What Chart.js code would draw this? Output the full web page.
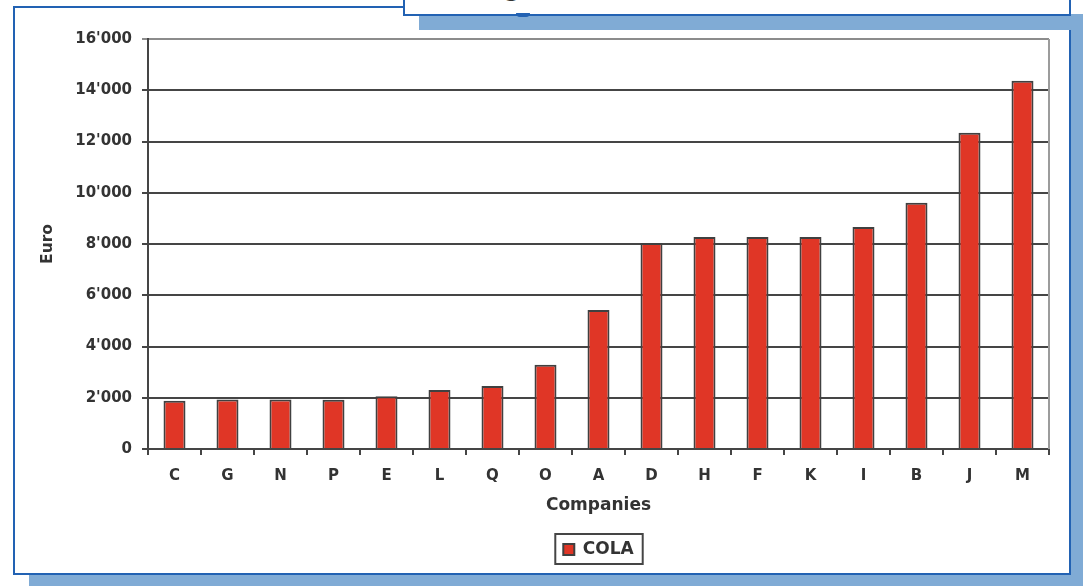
<!DOCTYPE html>
<html>
<head>
<meta charset="utf-8">
<script src="https://cdn.jsdelivr.net/npm/chart.js@4.4.1/dist/chart.umd.min.js"></script>
<style>
  html, body { margin: 0; padding: 0; background: #fff; }
  body { position: relative; width: 1083px; height: 586px; overflow: hidden; font-family: "DejaVu Sans", sans-serif; }
  .shadow { position: absolute; background: #80abd5; }
  .panel { position: absolute; background: #fff; border: 2px solid #2262b3; box-sizing: border-box; }
  #page-shadow { left: 29px; top: 22px; width: 1070px; height: 580px; }
  #page { left: 13px; top: 6px; width: 1058px; height: 569px; }
  #head-shadow { left: 419px; top: 14px; width: 680px; height: 16px; }
  #head { left: 403px; top: -4px; width: 668px; height: 20px; border-top: none; }
  #head-title { position: absolute; left: 419px; top: -21px; font: bold 22px/22px "DejaVu Sans", sans-serif; color: #333; white-space: nowrap; }
  #head-knob { position: absolute; left: 516px; top: 13px; width: 14px; height: 4px; background: #2262b3; border-radius: 0 0 7px 7px; }
  #chart { position: absolute; left: 0; top: 0; }
</style>
</head>
<body>
<div class="shadow" id="page-shadow"></div>
<div class="panel" id="page"></div>
<div class="shadow" id="head-shadow"></div>
<div class="panel" id="head"></div>
<div id="head-title">Ranking</div>
<div id="head-knob"></div>
<canvas id="chart" width="1083" height="586"></canvas>
<script>
// Companies, sorted by amount
const categories = ['C', 'G', 'N', 'P', 'E', 'L', 'Q', 'O', 'A', 'D', 'H', 'F', 'K', 'I', 'B', 'J', 'M'];
// Amount per company (Euro)
const colaValues = [1880, 1930, 1930, 1925, 2060, 2300, 2460, 3290, 5420, 8040, 8270, 8270, 8270, 8660, 9610, 12340, 14370];
const seriesName = 'COLA';
const yTickValues = [0, 2000, 4000, 6000, 8000, 10000, 12000, 14000, 16000];
const xAxisTitle = 'Companies';
const yAxisTitle = 'Euro';

const FONT = '"DejaVu Sans", sans-serif';
const TEXT = '#333333';
const LINE = '#454545';

// 16000 -> 16'000
const fmtThousands = v => String(v).replace(/\B(?=(\d{3})+(?!\d))/g, "'");

// Frame lines around the plot and the legend
const framePlugin = {
  id: 'frames',
  afterDraw(chart) {
    const { ctx, chartArea } = chart;
    ctx.save();
    ctx.strokeStyle = '#9c9c9c';
    ctx.lineWidth = 2;
    ctx.beginPath();
    ctx.moveTo(chartArea.right, chartArea.top);
    ctx.lineTo(chartArea.right, chartArea.bottom);
    ctx.stroke();
    const hb = chart.legend && chart.legend.legendHitBoxes && chart.legend.legendHitBoxes[0];
    if (hb) {
      ctx.strokeStyle = LINE;
      ctx.lineWidth = 2;
      ctx.strokeRect(hb.left - 8, hb.top - 7, hb.width + 17, hb.height + 13);
    }
    ctx.restore();
  }
};

new Chart(document.getElementById('chart'), {
  type: 'bar',
  data: {
    labels: categories,
    datasets: [{
      label: seriesName,
      data: colaValues,
      backgroundColor: '#e03626',
      borderColor: '#404040',
      borderWidth: 2,
      barPercentage: 0.415,
      categoryPercentage: 1.0
    }]
  },
  options: {
    responsive: false,
    animation: false,
    layout: { padding: { top: 39, right: 34, bottom: 18, left: 0 } },
    plugins: {
      tooltip: { enabled: false },
      legend: {
        position: 'bottom',
        fullSize: false,
        labels: {
          boxWidth: 11,
          boxHeight: 11,
          padding: 22,
          color: TEXT,
          font: { family: FONT, size: 17, weight: 'bold' }
        }
      }
    },
    scales: {
      x: {
        grid: { offset: true, drawOnChartArea: false, drawTicks: true, tickLength: 6, color: LINE, lineWidth: 2 },
        border: { color: LINE, width: 2 },
        ticks: { color: TEXT, padding: 12, maxRotation: 0, font: { family: FONT, size: 15, weight: 'bold' } },
        title: { display: true, text: xAxisTitle, color: TEXT, padding: { top: 0, bottom: 3 }, font: { family: FONT, size: 17, weight: 'bold' } },
        afterFit(scale) { scale.height = 70; }
      },
      y: {
        min: yTickValues[0],
        max: yTickValues[yTickValues.length - 1],
        afterBuildTicks(scale) { scale.ticks = yTickValues.map(v => ({ value: v })); },
        grid: {
          color: c => (c.tick && c.tick.value === yTickValues[yTickValues.length - 1]) ? '#8c8c8c' : LINE,
          lineWidth: 2,
          tickLength: 6
        },
        border: { color: LINE, width: 2 },
        ticks: { color: TEXT, padding: 10, callback: v => fmtThousands(v), font: { family: FONT, size: 15, weight: 'bold' } },
        title: { display: true, text: yAxisTitle, color: TEXT, padding: { top: 39, bottom: 0 }, font: { family: FONT, size: 15.5, weight: 'bold' } },
        afterFit(scale) { scale.width = 148; }
      }
    }
  },
  plugins: [framePlugin]
});
</script>
</body>
</html>
